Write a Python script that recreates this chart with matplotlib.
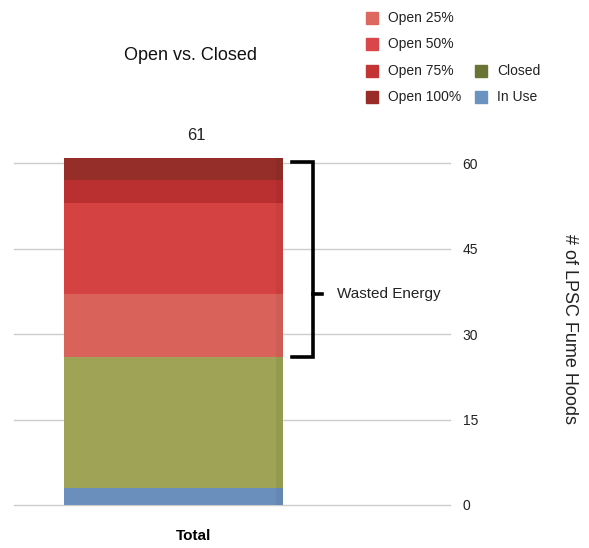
import matplotlib
matplotlib.use("Agg")
import matplotlib.pyplot as plt
from matplotlib.patches import Rectangle

plt.rcParams['font.family'] = ['Liberation Sans', 'DejaVu Sans']

category = "Total"
series = ["In Use", "Closed", "Open 25%", "Open 50%", "Open 75%", "Open 100%"]
values = [3, 23, 11, 16, 4, 4]
bar_colors = ["#6a8fbd", "#9ea356", "#d9625a", "#d44342", "#ba2f30", "#952e29"]
legend_colors = {"Open 25%": "#dc6860", "Open 50%": "#d9474a", "Open 75%": "#c33434",
                 "Open 100%": "#9a2c28", "Closed": "#6b7433", "In Use": "#6b93c2"}
yticks = [0, 15, 30, 45, 60]
total = sum(values)

W, H = 589, 548
fig = plt.figure(figsize=(W / 100, H / 100), dpi=100)
ax = fig.add_axes([14 / W, 1 - 505 / H, 436 / W, 353 / H])
ax.set_xlim(0, 1)
ax.set_ylim(0, 62)

bx, bw = 0.366, 0.502
bottom = 0
for v, c in zip(values, bar_colors):
    ax.bar(bx, v, bw, bottom=bottom, color=c, zorder=3, linewidth=0)
    bottom += v
# subtle right-edge shading
ax.bar(bx + bw / 2 - 0.008, total, 0.016, bottom=0, color="black", alpha=0.05, zorder=4, linewidth=0)

ax.text(bx + 0.052, total + 2.5, str(total), ha="center", va="bottom", fontsize=12, color="#222222")

for t in yticks:
    ax.axhline(t, color="#cccccc", lw=1, zorder=1, clip_on=False)
ax.set_yticks(yticks)
ax.yaxis.tick_right()
ax.tick_params(axis="y", length=0, pad=9, labelsize=10, colors="#222222")
ax.set_xticks([bx + 0.045])
ax.set_xticklabels([category], fontsize=11, fontweight="bold")
ax.tick_params(axis="x", length=0, pad=17)
for s in ax.spines.values():
    s.set_visible(False)
ax.yaxis.set_label_position("right")
ax.set_ylabel("# of LPSC Fume Hoods", rotation=-90, fontsize=13, labelpad=72, color="#222222")

# Bracket for wasted energy
b_lo = values[0] + values[1]
b_hi = total - 0.7
b_mid = b_lo + values[2]
x0, x1, x2 = 0.638, 0.686, 0.706
ax.plot([x0, x1, x1, x0], [b_hi, b_hi, b_lo, b_lo], color="black", lw=2.6,
        solid_joinstyle="miter", zorder=5, clip_on=False)
ax.plot([x1, x2], [b_mid, b_mid], color="black", lw=2.6, zorder=5, clip_on=False)
ax.text(0.74, b_mid, "Wasted Energy", ha="left", va="center", fontsize=11, color="#222222")

fig.text(190 / W, 1 - 55 / H, "Open vs. Closed", ha="center", va="center", fontsize=13, color="#111111")

# legend
legend_layout = [("Open 25%", 366, 18), ("Open 50%", 366, 44), ("Open 75%", 366, 71),
                 ("Open 100%", 366, 97), ("Closed", 475, 71), ("In Use", 475, 97)]
for name, lx, ly in legend_layout:
    fig.patches.append(Rectangle((lx / W, 1 - (ly + 6) / H), 12 / W, 12 / H,
                                 transform=fig.transFigure, color=legend_colors[name]))
    fig.text((lx + 22) / W, 1 - ly / H, name, ha="left", va="center", fontsize=10, color="#222222")

fig.savefig("out.png", dpi=100)
